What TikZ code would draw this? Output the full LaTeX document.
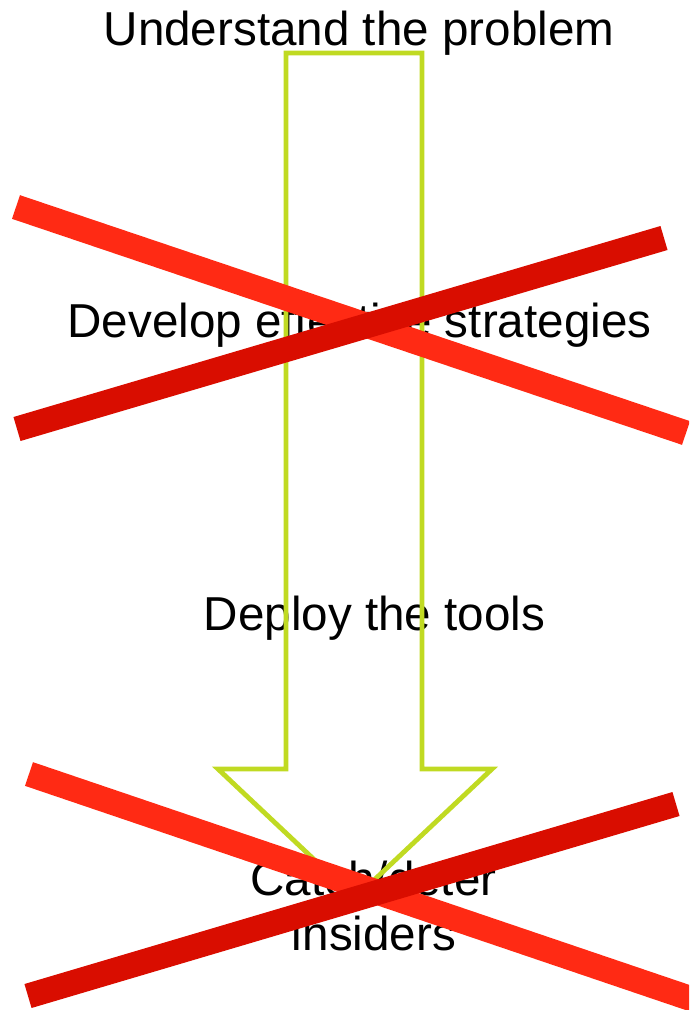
\documentclass[tikz,border=0pt]{standalone}
\usepackage{fontspec}
\setmainfont{Liberation Sans}
\definecolor{arrowgreen}{RGB}{192,218,34}
\definecolor{lightred}{RGB}{255,42,20}
\definecolor{darkred}{RGB}{217,13,0}
\tikzset{
  label/.style={font=\fontsize{47.6}{55}\selectfont, inner sep=0pt, anchor=base, text=black},
  bigarrow/.style={draw=arrowgreen, line width=4.8pt, fill=none},
  crossA/.style={draw=lightred, line width=25pt},
  crossB/.style={draw=darkred, line width=25pt}
}
\begin{document}
\begin{tikzpicture}[x=1pt,y=-1pt]
\useasboundingbox (0,0) rectangle (689,1010);
\clip (0,0) rectangle (689,1010);
% texts
\node[label] (t1) at (359,45) {Understand the problem};
\node[label] (t2) at (359.5,337) {Develop effective strategies};
\node[label] (t3) at (374.5,630) {Deploy the tools};
\node[label] (t4a) at (373.5,895) {Catch/deter};
\node[label] (t4b) at (374,950) {insiders};
% arrow
\draw[bigarrow] (286,53) -- (422,53) -- (422,769) -- (492,769) -- (355,898) -- (218,769) -- (286,769) -- cycle;
% cross 1
\coordinate (c1a) at (16,207);
\coordinate (c1b) at (686,433);
\coordinate (c1c) at (17,429);
\coordinate (c1d) at (664,238);
\draw[crossA] (c1a) -- (c1b);
\draw[crossB] (c1c) -- (c1d);
% cross 2
\coordinate (c2a) at (29,774);
\coordinate (c2b) at (695,1000);
\coordinate (c2c) at (28,996);
\coordinate (c2d) at (676,804);
\draw[crossA] (c2a) -- (c2b);
\draw[crossB] (c2c) -- (c2d);
\end{tikzpicture}
\end{document}
